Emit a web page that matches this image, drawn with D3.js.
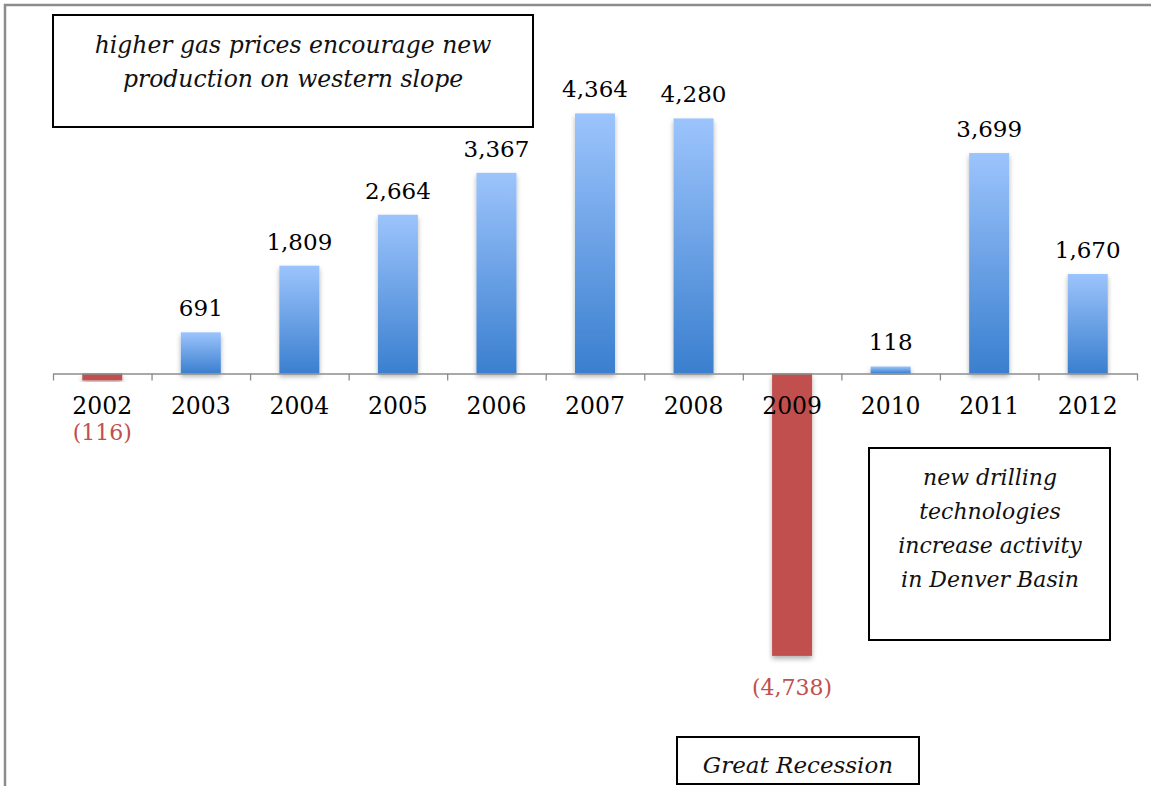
<!DOCTYPE html>
<html>
<head>
<meta charset="utf-8">
<script src="https://cdn.jsdelivr.net/npm/d3@7"></script>
<style>
  body { margin: 0; background: #fff; }
  svg { display: block; }
  text { font-family: "DejaVu Serif", "Liberation Serif", serif; }
</style>
</head>
<body>
<script>
// chart data
const years = ["2002", "2003", "2004", "2005", "2006", "2007", "2008", "2009", "2010", "2011", "2012"];
const values = [-116, 691, 1809, 2664, 3367, 4364, 4280, -4738, 118, 3699, 1670];

// annotation text
const noteTop = ["higher gas prices encourage new", "production on western slope"];
const noteRight = ["new drilling", "technologies", "increase activity", "in Denver Basin"];
const noteBottom = ["Great Recession"];

const data = years.map((y, i) => ({ year: y, value: values[i] }));

const w = 1151;
const h = 786;

const svg = d3.select('body')
    .append('svg')
    .attr('width', w)
    .attr('height', h);

// gradient + shadow
const defs = svg.append('defs');
const grad = defs.append('linearGradient')
    .attr('id', 'blueGrad')
    .attr('x1', 0).attr('y1', 0).attr('x2', 0).attr('y2', 1);
grad.append('stop').attr('offset', '0%').attr('stop-color', '#9cc4fc');
grad.append('stop').attr('offset', '100%').attr('stop-color', '#3a7fcf');

const shadow = defs.append('filter')
    .attr('id', 'shadow')
    .attr('x', '-20%').attr('y', '-20%').attr('width', '140%').attr('height', '140%');
shadow.append('feDropShadow')
    .attr('dx', 0).attr('dy', 3)
    .attr('stdDeviation', 2.5)
    .attr('flood-color', '#000')
    .attr('flood-opacity', 0.3);

// outer frame (cut by the page)
svg.append('rect')
    .attr('x', 5).attr('y', 5)
    .attr('width', w + 20).attr('height', h + 20)
    .attr('fill', 'none')
    .attr('stroke', '#8c8c8c')
    .attr('stroke-width', 2.5);

// scales
const xLeft = 53, xRight = 1137;
const xScale = d3.scaleBand()
    .domain(years)
    .range([xLeft, xRight])
    .paddingInner(0.594)
    .paddingOuter(0.297);

const zeroY = 373.5;
const pxPerUnit = 0.0596;
const yScale = d3.scaleLinear()
    .domain([-5000, 5000])
    .range([zeroY + 5000 * pxPerUnit, zeroY - 5000 * pxPerUnit]);

// bars
svg.selectAll('rect.bar')
    .data(data)
    .enter()
    .append('rect')
    .attr('class', 'bar')
    .attr('x', (d) => xScale(d.year))
    .attr('width', xScale.bandwidth())
    .attr('y', (d) => yScale(Math.max(0, d.value)))
    .attr('height', (d) => Math.abs(yScale(d.value) - yScale(0)))
    .attr('fill', (d) => d.value < 0 ? '#c0504d' : 'url(#blueGrad)')
    .attr('filter', 'url(#shadow)');

// x-axis line with boundary ticks
const idxScale = d3.scaleLinear().domain([0, years.length]).range([xLeft, xRight]);
const tickAxis = d3.axisBottom(idxScale)
    .tickValues(d3.range(0, years.length + 1))
    .tickSize(7)
    .tickSizeOuter(0)
    .tickFormat('');
const gTicks = svg.append('g')
    .attr('transform', `translate(0, ${yScale(0)})`)
    .call(tickAxis);
gTicks.selectAll('path, line').attr('stroke', '#8c8c8c').attr('stroke-width', 1.3);

// year labels
const xAxis = d3.axisBottom(xScale).tickSize(0).tickPadding(0);
const gx = svg.append('g')
    .attr('transform', `translate(0, ${yScale(0)})`)
    .call(xAxis);
gx.select('.domain').remove();
gx.selectAll('text')
    .attr('y', 40)
    .attr('dy', 0)
    .style('font-family', '"DejaVu Serif", serif')
    .style('font-size', '23.5px')
    .attr('fill', '#000');

// value labels
const fmt = d3.format(',');
const yearBaseline = yScale(0) + 40;
svg.selectAll('text.val')
    .data(data)
    .enter()
    .append('text')
    .attr('class', 'val')
    .attr('x', (d) => xScale(d.year) + xScale.bandwidth() / 2)
    .attr('y', (d) => d.value >= 0
        ? yScale(d.value) - 16
        : Math.max(yScale(d.value) + 39, yearBaseline + 26))
    .attr('text-anchor', 'middle')
    .style('font-size', (d) => d.value < 0 ? '22px' : '23px')
    .attr('fill', (d) => d.value < 0 ? '#c0504d' : '#000')
    .text((d) => d.value < 0 ? `(${fmt(-d.value)})` : fmt(d.value));

// annotation boxes
function noteBox(x, y, bw, bh, lines, cx, firstBase, step, size) {
    svg.append('rect')
        .attr('x', x).attr('y', y)
        .attr('width', bw).attr('height', bh)
        .attr('fill', '#fff')
        .attr('stroke', '#000')
        .attr('stroke-width', 2);
    svg.append('g')
        .selectAll('text')
        .data(lines)
        .enter()
        .append('text')
        .attr('x', cx)
        .attr('y', (d, i) => firstBase + i * step)
        .attr('text-anchor', 'middle')
        .style('font-style', 'italic')
        .style('font-size', size + 'px')
        .attr('fill', '#111')
        .text((d) => d);
}

noteBox(53, 15, 480, 112, noteTop, 293, 53, 34, 23.5);
noteBox(869, 448, 241, 192, noteRight, 990, 485, 34, 22);
noteBox(677, 737, 242, 47, noteBottom, 798, 773, 0, 23);
</script>
</body>
</html>
